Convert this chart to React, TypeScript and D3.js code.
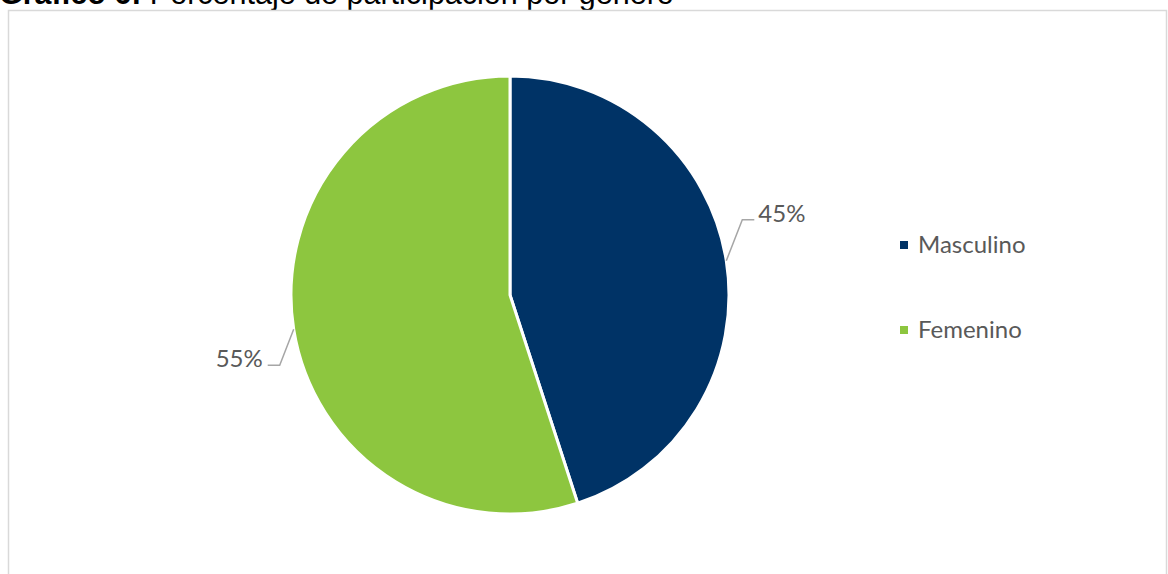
import React from "react";
import * as d3 from "d3";

const categories = ["Masculino", "Femenino"];
const values = [45, 55];
const colors = ["#003366", "#8dc63f"];
const titleBold = "Gráfico 6:";
const titleRest = " Porcentaje de participación por género";

const W = 1168;
const H = 574;
const cx = 510;
const cy = 295;
const R = 219;

export default function App() {
  const pie = d3.pie<number>().sort(null).value((d) => d)(values);
  const arc = d3.arc<d3.PieArcDatum<number>>().innerRadius(0).outerRadius(R);
  const total = d3.sum(values);
  const font = "Lato, 'Open Sans', sans-serif";

  return (
    <svg
      width={W}
      height={H}
      style={{ position: "absolute", left: 0, top: 0, background: "#fff" }}
    >
      <text x={-1} y={4} fontFamily="'Liberation Sans', Arial, sans-serif" fontSize={30.5} fill="#000">
        <tspan fontWeight="bold">{titleBold}</tspan>
        <tspan>{titleRest}</tspan>
      </text>
      <rect x={8.5} y={10.5} width={1158} height={600} fill="none" stroke="#d9d9d9" strokeWidth={1.5} />
      <g transform={`translate(${cx},${cy})`}>
        {pie.map((p, i) => (
          <path key={i} d={arc(p) || ""} fill={colors[i]} stroke="#fff" strokeWidth={3} strokeLinejoin="round" />
        ))}
        {pie.map((p, i) => {
          const mid = (p.startAngle + p.endAngle) / 2;
          const x0 = Math.sin(mid) * R;
          const y0 = -Math.cos(mid) * R;
          const right = Math.sin(mid) > 0;
          const x1 = x0 + (right ? 16 : -14);
          const y1 = y0 + (right ? -41 : 36);
          const x2 = x1 + (right ? 12 : -12);
          const pct = Math.round((p.value / total) * 100) + "%";
          return (
            <g key={"l" + i}>
              <polyline
                points={`${x0},${y0} ${x1},${y1} ${x2},${y1}`}
                fill="none"
                stroke="#a6a6a6"
                strokeWidth={1.5}
              />
              <text
                x={x2 + (right ? 4 : -5)}
                y={y1 + 2}
                textAnchor={right ? "start" : "end"}
                fontFamily={font}
                fontWeight={400}
                fontSize={24}
                fill="#595959"
              >
                {pct}
              </text>
            </g>
          );
        })}
      </g>
      <g>
        {categories.map((c, i) => (
          <g key={c} transform={`translate(900,${241 + i * 85})`}>
            <rect x={0} y={0} width={8} height={8} fill={colors[i]} />
            <text x={18} y={12} fontFamily={font} fontWeight={400} fontSize={24} fill="#595959">
              {c}
            </text>
          </g>
        ))}
      </g>
    </svg>
  );
}
